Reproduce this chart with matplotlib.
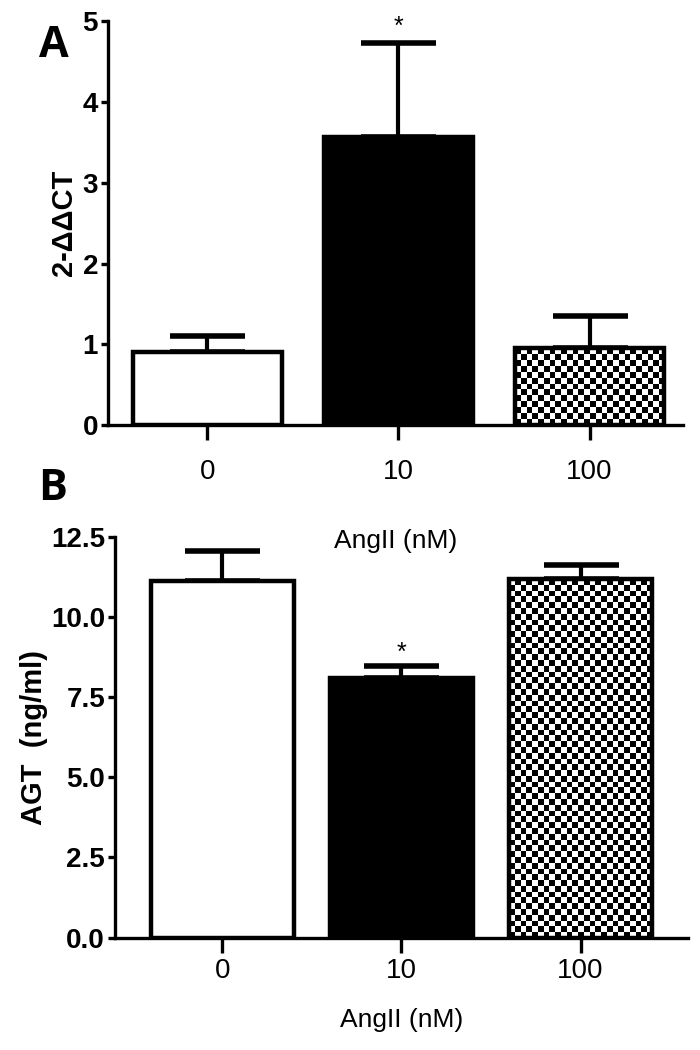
import numpy as np
import matplotlib
matplotlib.use("Agg")
import matplotlib.pyplot as plt

# data
groups = ["0", "10", "100"]
ddct_mean = [0.91, 3.57, 0.95]
ddct_err = [0.20, 1.16, 0.40]
agt_mean = [11.12, 8.08, 11.18]
agt_err = [0.92, 0.38, 0.43]
ddct_ticks = [0, 1, 2, 3, 4, 5]
agt_ticks = [0.0, 2.5, 5.0, 7.5, 10.0, 12.5]
sig_bar = 1  # index of the bar marked with *

tick_font = ["Liberation Sans Narrow", "Liberation Sans", "DejaVu Sans"]
text_font = ["Liberation Sans", "DejaVu Sans"]
letter_font = ["Open Sans", "DejaVu Sans"]

fig = plt.figure(figsize=(7, 10.5), dpi=100)
axA = fig.add_axes([0.154, 0.595, 0.822, 0.385])
axB = fig.add_axes([0.164, 0.107, 0.819, 0.382])
axA.patch.set_alpha(0)
axB.patch.set_alpha(0)


def checker(ax, bar, cell_px=5.8):
    # checkerboard fill clipped to the bar
    fig.canvas.draw()
    bb = bar.get_window_extent()
    nx = max(int(round(bb.width / cell_px)), 2)
    ny = max(int(round(bb.height / cell_px)), 2)
    img = (np.indices((ny, nx)).sum(axis=0) % 2).astype(float)
    x0, y0 = bar.get_x(), bar.get_y()
    im = ax.imshow(img, cmap="gray", extent=(x0, x0 + bar.get_width(), y0, y0 + bar.get_height()),
                   interpolation="nearest", aspect="auto", zorder=2.5, origin="lower")
    im.set_clip_path(bar)


def panel(ax, means, errs, yticks, ylim, xlim, width, ylabel, star_off, xpad, lpad, ypad):
    x = np.arange(len(groups))
    ax.set_xlim(*xlim)
    ax.set_ylim(*ylim)
    ax.errorbar(x, means, yerr=[np.zeros(len(errs)), errs], fmt="none", ecolor="black",
                elinewidth=3, capsize=27, capthick=4, zorder=1)
    bars = ax.bar(x, means, width=width, color=["white", "black", "white"],
                  edgecolor="none", zorder=2)
    ax.bar(x, means, width=width, fill=False, edgecolor="black", linewidth=3.2, zorder=3)
    checker(ax, bars[2])
    ax.set_xlim(*xlim)
    ax.set_ylim(*ylim)
    ax.text(x[sig_bar], means[sig_bar] + errs[sig_bar] + star_off, "*", ha="center", va="bottom",
            fontsize=18, family=text_font)
    ax.spines[["top", "right"]].set_visible(False)
    for s in ["left", "bottom"]:
        ax.spines[s].set_linewidth(2.4)
    ax.set_xticks(x)
    ax.set_xticklabels(groups, fontsize=20, family=tick_font)
    ax.set_yticks(yticks)
    ax.tick_params(axis="x", length=11, width=2.4, pad=xpad)
    ax.tick_params(axis="y", length=5, width=2.4, pad=2)
    for lab in ax.get_yticklabels():
        lab.set_fontsize(20)
        lab.set_fontweight("bold")
        lab.set_family(tick_font)
    ax.set_xlabel("AngII (nM)", fontsize=19, family=tick_font, labelpad=lpad)
    ax.set_ylabel(ylabel, fontsize=21, fontweight="bold", family=text_font, labelpad=ypad)


panel(axA, ddct_mean, ddct_err, ddct_ticks, (0, 5), (-0.52, 2.49), 0.78, "2-ΔΔCT", 0.05, 13, 32, 3)
panel(axB, agt_mean, agt_err, [0, 2.5, 5, 7.5, 10, 12.5], (0, 12.5), (-0.6, 2.6), 0.8,
      "AGT  (ng/ml)", 0.05, 4, 17, 2)
axB.set_yticklabels([f"{v:.1f}" for v in agt_ticks], fontsize=20, fontweight="bold", family=tick_font)

fig.text(0.056, 0.957, "A", fontsize=31, fontweight="bold", family=letter_font, va="center")
fig.text(0.055, 0.535, "B", fontsize=31, fontweight="bold", family=letter_font, va="center")

fig.savefig("out.png", dpi=100, facecolor="white")
